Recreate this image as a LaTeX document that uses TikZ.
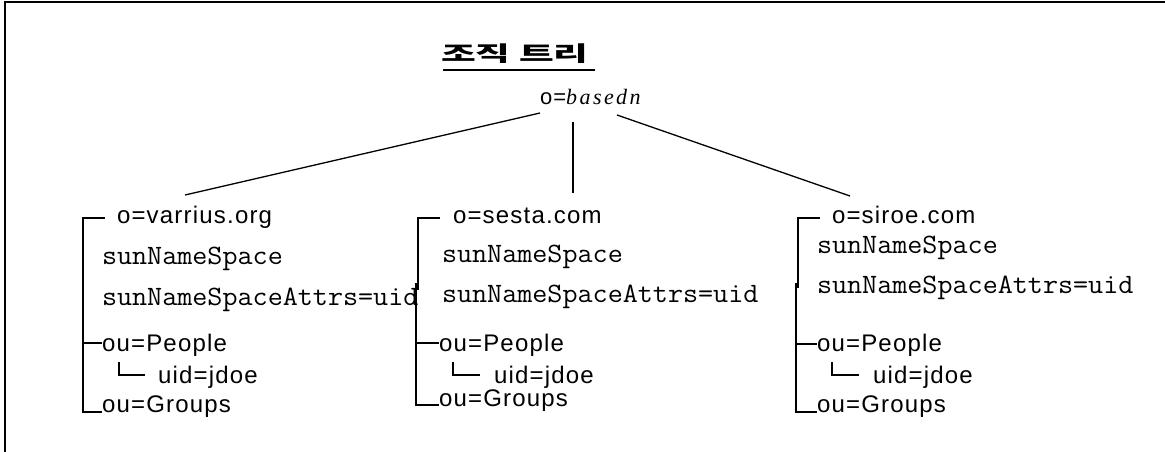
\documentclass[tikz,border=0pt]{standalone}
\usepackage{fontspec}
\usepackage{graphicx}
\setmainfont{Liberation Sans}
\newfontfamily\sansls[LetterSpace=5]{Liberation Sans}
\newfontfamily\serifls[LetterSpace=11]{Liberation Serif}
\newfontfamily\krf{Noto Sans CJK KR}
\newcommand{\mytt}[1]{\scalebox{1.045}[1]{#1}}
\tikzset{
  lbl/.style={anchor=base west, inner sep=0pt, outer sep=0pt},
  sanst/.style={lbl, font=\sansls\fontsize{24pt}{28pt}\selectfont},
  monot/.style={lbl, font=\ttfamily\fontsize{28pt}{32pt}\selectfont},
  treeline/.style={line width=2pt},
  rootline/.style={line width=1.3pt},
}
\begin{document}
\begin{tikzpicture}[x=1pt,y=-1pt]
\useasboundingbox (0,0) rectangle (1165,452);
\draw[line width=2.4pt] (5,452) -- (5,2) -- (1165,2);
% title
\node[lbl, font=\krf\bfseries\fontsize{21pt}{25pt}\selectfont] (title) at (441,62) {\scalebox{1.8}[1]{조직 트리}};
\draw[line width=2pt] (443,70) -- (595,70);
% root
\node[lbl] (root) at (540,104) {{\sansls\fontsize{22pt}{26pt}\selectfont o=}{\serifls\itshape\fontsize{22pt}{26pt}\selectfont basedn}};
\coordinate (rl) at (540,113);
\coordinate (rm) at (573,122);
\coordinate (rr) at (617,115);
\coordinate (b1) at (185,195);
\coordinate (b2) at (573,193);
\coordinate (b3) at (850,196);
\draw[rootline] (rl) -- (b1);
\draw[treeline] (rm) -- (b2);
\draw[rootline] (rr) -- (b3);
% branch 1
\node[sanst] (o1) at (117,223) {o=varrius.org};
\node[monot] (s1) at (102,264) {\mytt{sunNameSpace}};
\node[monot] (a1) at (102,305) {\mytt{sunNameSpaceAttrs=uid}};
\node[sanst] (p1) at (102,351) {ou=People};
\node[sanst] (u1) at (158,383) {uid=jdoe};
\node[sanst] (g1) at (102,412) {ou=Groups};
\draw[treeline] (105,218) -- (83,218) -- (83,412) -- (g1.base west);
\draw[treeline] (83,343) -- (102,343);
\draw[treeline] (119,362) -- (119,375) -- (145,375);
% branch 2
\node[sanst] (o2) at (453,223) {o=sesta.com};
\node[monot] (s2) at (442,262) {\mytt{sunNameSpace}};
\node[monot] (a2) at (442,302) {\mytt{sunNameSpaceAttrs=uid}};
\node[sanst] (p2) at (439,351) {ou=People};
\node[sanst] (u2) at (494,383) {uid=jdoe};
\node[sanst] (g2) at (439,406) {ou=Groups};
\draw[treeline] (440,218) -- (418,218) -- (418,290);
\draw[treeline] (416,283) -- (416,405) -- (439,405);
\draw[treeline] (416,343) -- (439,343);
\draw[treeline] (453,362) -- (453,375) -- (480,375);
% branch 3
\node[sanst] (o3) at (832,223) {o=siroe.com};
\node[monot] (s3) at (817,253) {\mytt{sunNameSpace}};
\node[monot] (a3) at (817,293) {\mytt{sunNameSpaceAttrs=uid}};
\node[sanst] (p3) at (817,351) {ou=People};
\node[sanst] (u3) at (873,383) {uid=jdoe};
\node[sanst] (g3) at (817,412) {ou=Groups};
\draw[treeline] (820,218) -- (798,218) -- (798,288);
\draw[treeline] (796,283) -- (796,412) -- (817,412);
\draw[treeline] (796,344) -- (817,344);
\draw[treeline] (832,362) -- (832,375) -- (859,375);
\end{tikzpicture}
\end{document}
